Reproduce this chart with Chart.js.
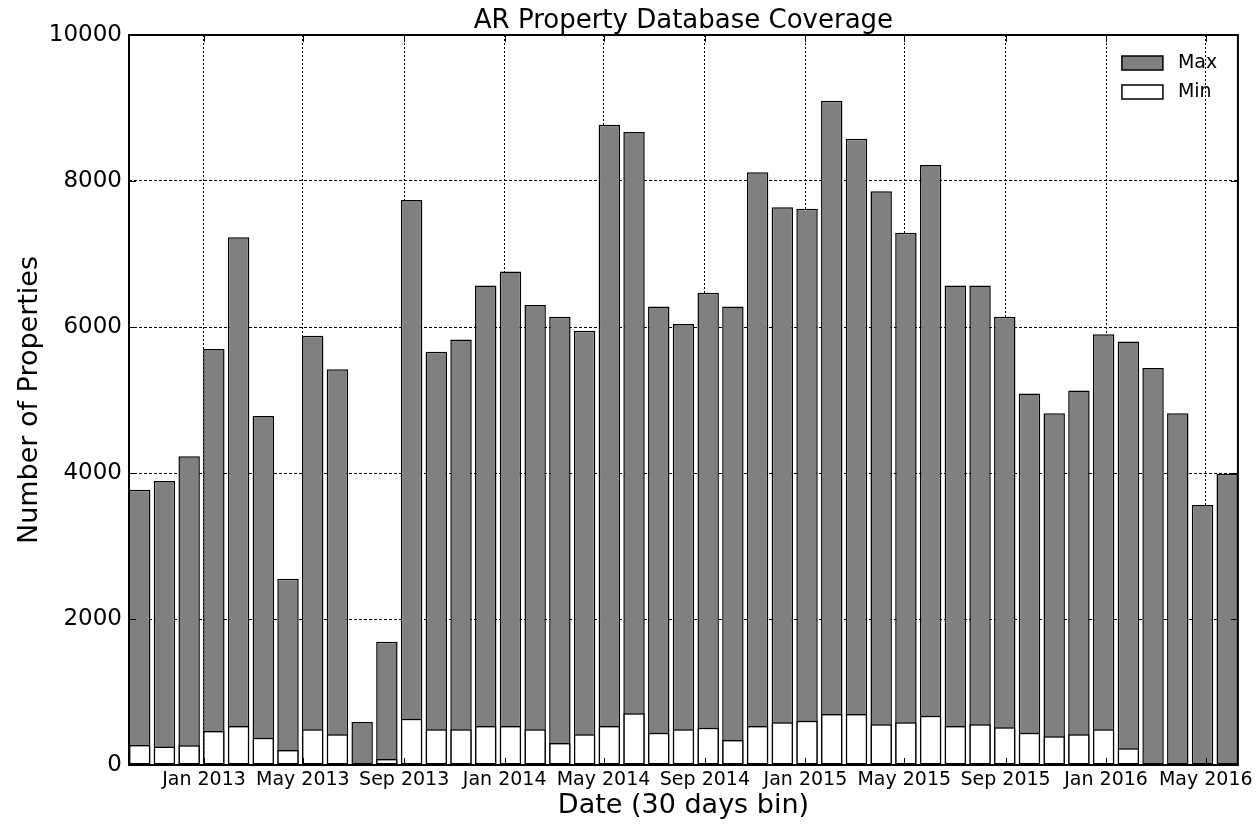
<!DOCTYPE html>
<html>
<head>
<meta charset="utf-8">
<title>AR Property Database Coverage</title>
<script src="https://cdn.jsdelivr.net/npm/chart.js@4.4.0/dist/chart.umd.min.js"></script>
<style>
  html, body { margin: 0; padding: 0; background: #fff; }
  #wrap { width: 1257px; height: 825px; }
</style>
</head>
<body>
<div id="wrap"><canvas id="myChart" width="1257" height="825"></canvas></div>
<script>
// 30 day bins, first bin starts here
const binStart = '2012-10-02';
const binDays = 30;
const barDays = 26;

const maxCounts = [3770, 3890, 4230, 5700, 7230, 4780, 2550, 5880, 5420, 590,
                   1690, 7740, 5660, 5830, 6570, 6760, 6300, 6140, 5950, 8770,
                   8670, 6280, 6040, 6470, 6280, 8120, 7640, 7620, 9100, 8580,
                   7860, 7290, 8220, 6570, 6570, 6140, 5090, 4820, 5130, 5900,
                   5800, 5440, 4820, 3560, 3990];
const minCounts = [275, 255, 270, 466, 534, 374, 205, 489, 420, 0,
                   82, 634, 489, 489, 534, 534, 489, 300, 420, 534,
                   708, 443, 489, 511, 342, 534, 585, 607, 699, 699,
                   557, 585, 676, 534, 557, 516, 443, 393, 420, 489,
                   228, 0, 0, 0, 0];

const tickDates = ['2013-01-01', '2013-05-01', '2013-09-01', '2014-01-01', '2014-05-01', '2014-09-01',
                   '2015-01-01', '2015-05-01', '2015-09-01', '2016-01-01', '2016-05-01'];
const tickLabels = ['Jan 2013', 'May 2013', 'Sep 2013', 'Jan 2014', 'May 2014', 'Sep 2014',
                    'Jan 2015', 'May 2015', 'Sep 2015', 'Jan 2016', 'May 2016'];

const chartTitle = 'AR Property Database Coverage';

const DAY = 86400000;
const FONT = 'DejaVu Sans';
const t0 = Date.parse(binStart);
const tickMs = tickDates.map(d => Date.parse(d));

// bars are drawn from the bin start over barDays, chart.js centres them
const binCenter = i => t0 + (i * binDays + barDays / 2) * DAY;
const maxPoints = maxCounts.map((v, i) => ({ x: binCenter(i), y: v }));
const minPoints = minCounts.map((v, i) => ({ x: binCenter(i), y: v }));

const xMin = t0;
const xMax = t0 + ((maxCounts.length - 1) * binDays + barDays) * DAY;

const framePlugin = {
  id: 'frame',
  afterDraw(chart) {
    const { ctx, chartArea: a, scales } = chart;
    ctx.save();
    ctx.setLineDash([]);
    ctx.strokeStyle = '#000';
    ctx.lineWidth = 1;
    const line = (x1, y1, x2, y2) => { ctx.beginPath(); ctx.moveTo(x1, y1); ctx.lineTo(x2, y2); ctx.stroke(); };
    // inward ticks on all four sides
    scales.x.ticks.forEach(t => {
      const px = Math.round(scales.x.getPixelForValue(t.value)) + 0.5;
      line(px, a.bottom, px, a.bottom - 7);
      line(px, a.top, px, a.top + 7);
    });
    scales.y.ticks.forEach(t => {
      const py = Math.round(scales.y.getPixelForValue(t.value)) + 0.5;
      line(a.left, py, a.left + 7, py);
      line(a.right, py, a.right - 7, py);
    });
    ctx.lineWidth = 2;
    ctx.strokeRect(a.left, a.top, a.right - a.left, a.bottom - a.top);

    // title centred over the axes
    ctx.fillStyle = '#000';
    ctx.font = '26px "' + FONT + '"';
    ctx.textAlign = 'center';
    ctx.textBaseline = 'alphabetic';
    ctx.fillText(chartTitle, (a.left + a.right) / 2, a.top - 7);

    // legend, top right inside the axes
    ctx.lineWidth = 1.5;
    ctx.font = '19px "' + FONT + '"';
    ctx.textAlign = 'left';
    ctx.textBaseline = 'middle';
    chart.data.datasets.forEach((ds, k) => {
      const px = a.right - 116, py = a.top + 21 + k * 29;
      ctx.fillStyle = ds.backgroundColor;
      ctx.fillRect(px, py, 41, 14);
      ctx.strokeRect(px, py, 41, 14);
      ctx.fillStyle = '#000';
      ctx.fillText(ds.label, px + 56, py + 7);
    });
    ctx.restore();
  }
};

const ctx = document.getElementById('myChart').getContext('2d');
const myChart = new Chart(ctx, {
  type: 'bar',
  data: {
    datasets: [
      {
        label: 'Max',
        data: maxPoints,
        backgroundColor: '#808080',
        borderColor: '#000',
        borderWidth: 1.5,
        borderSkipped: false,
        grouped: false,
        order: 2
      },
      {
        label: 'Min',
        data: minPoints,
        backgroundColor: '#ffffff',
        borderColor: '#000',
        borderWidth: 1.5,
        borderSkipped: false,
        grouped: false,
        order: 1
      }
    ]
  },
  options: {
    responsive: false,
    animation: false,
    devicePixelRatio: 1,
    layout: { padding: { left: 0, right: 13, top: 35, bottom: 0 } },
    datasets: { bar: { categoryPercentage: 1, barPercentage: barDays / binDays } },
    plugins: {
      legend: { display: false },
      tooltip: { enabled: false },
      title: { display: false }
    },
    scales: {
      x: {
        type: 'linear',
        min: xMin,
        max: xMax,
        offset: false,
        z: 1,
        afterBuildTicks: scale => { scale.ticks = tickMs.map(v => ({ value: v })); },
        afterFit: scale => { scale.height = 60; },
        ticks: {
          autoSkip: false,
          maxRotation: 0,
          padding: 4,
          color: '#000',
          font: { family: FONT, size: 19 },
          callback: (value, index) => tickLabels[index]
        },
        grid: { color: '#000', lineWidth: 1, drawTicks: false, offset: false },
        border: { display: false, dash: [2, 2] },
        title: {
          display: true,
          text: 'Date (30 days bin)',
          color: '#000',
          font: { family: FONT, size: 27 },
          padding: { top: 0, bottom: 3 }
        }
      },
      y: {
        min: 0,
        max: 10000,
        z: 1,
        afterFit: scale => { scale.width = 129; },
        ticks: {
          stepSize: 2000,
          padding: 7,
          color: '#000',
          font: { family: FONT, size: 23 },
          callback: value => String(value)
        },
        grid: { color: '#000', lineWidth: 1, drawTicks: false },
        border: { display: false, dash: [3, 2] },
        title: {
          display: true,
          text: 'Number of Properties',
          color: '#000',
          font: { family: FONT, size: 27 },
          padding: { top: 14, bottom: 0 }
        }
      }
    }
  },
  plugins: [framePlugin]
});
</script>
</body>
</html>
